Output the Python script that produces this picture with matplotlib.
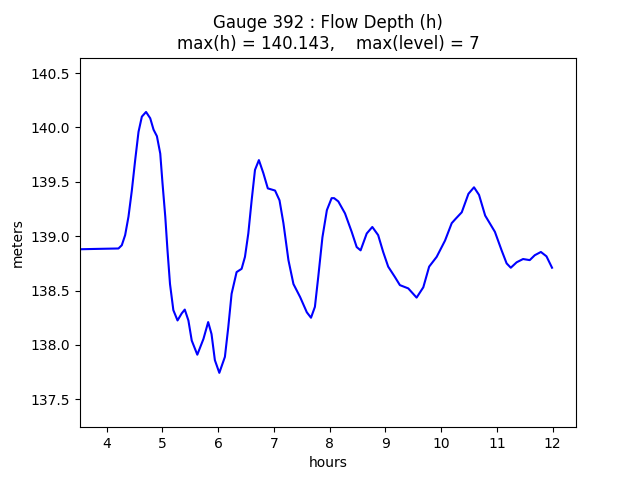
import matplotlib.pyplot as plt

hours = [3.52, 3.8, 4.0, 4.21, 4.27, 4.33, 4.39, 4.45, 4.51, 4.57, 4.63, 4.705,
         4.78, 4.84, 4.90, 4.96, 5.00, 5.05, 5.09, 5.135, 5.195, 5.27, 5.345, 5.40,
         5.465, 5.525, 5.625, 5.735, 5.82, 5.88, 5.94, 6.02, 6.12, 6.18, 6.24, 6.33,
         6.42, 6.48, 6.54, 6.60, 6.66, 6.73, 6.81, 6.89, 7.02, 7.10, 7.17, 7.26,
         7.35, 7.47, 7.59, 7.665, 7.735, 7.795, 7.87, 7.95, 8.035, 8.08, 8.155,
         8.275, 8.395, 8.485, 8.555, 8.665, 8.765, 8.87, 8.96, 9.05, 9.17, 9.26,
         9.41, 9.56, 9.68, 9.785, 9.92, 10.07, 10.19, 10.26, 10.37, 10.49, 10.59,
         10.68, 10.79, 10.965, 11.085, 11.175, 11.25, 11.355, 11.47, 11.59, 11.68,
         11.79, 11.89, 11.99]
depth = [138.880, 138.883, 138.885, 138.887, 138.917, 139.01, 139.18, 139.42, 139.70, 139.96, 140.10, 140.143,
         140.085, 139.98, 139.92, 139.76, 139.49, 139.18, 138.87, 138.56, 138.32, 138.225, 138.29, 138.325,
         138.225, 138.04, 137.91, 138.055, 138.21, 138.10, 137.86, 137.743, 137.89, 138.16, 138.47, 138.67,
         138.70, 138.81, 139.025, 139.33, 139.61, 139.70, 139.58, 139.44, 139.42, 139.33, 139.12, 138.78,
         138.56, 138.44, 138.30, 138.25, 138.35, 138.625, 138.99, 139.24, 139.35, 139.35, 139.32,
         139.21, 139.04, 138.90, 138.87, 139.025, 139.085, 139.01, 138.855, 138.72, 138.625, 138.55,
         138.52, 138.435, 138.53, 138.72, 138.81, 138.96, 139.12, 139.16, 139.22, 139.39, 139.45,
         139.38, 139.19, 139.04, 138.87, 138.75, 138.71, 138.76, 138.79, 138.78, 138.825,
         138.855, 138.815, 138.71]

gauge = 392
max_level = 7

fig, ax = plt.subplots(figsize=(6.4, 4.8))
ax.plot(hours, depth, 'b')
ax.set_xlim(3.52, 12.42)
ax.set_ylim(min(depth) - 0.5, max(depth) + 0.5)
ax.set_xlabel('hours')
ax.set_ylabel('meters')
ax.set_title('Gauge %d : Flow Depth (h)\nmax(h) = %.3f,    max(level) = %d'
             % (gauge, max(depth), max_level))
plt.savefig('out.png')
